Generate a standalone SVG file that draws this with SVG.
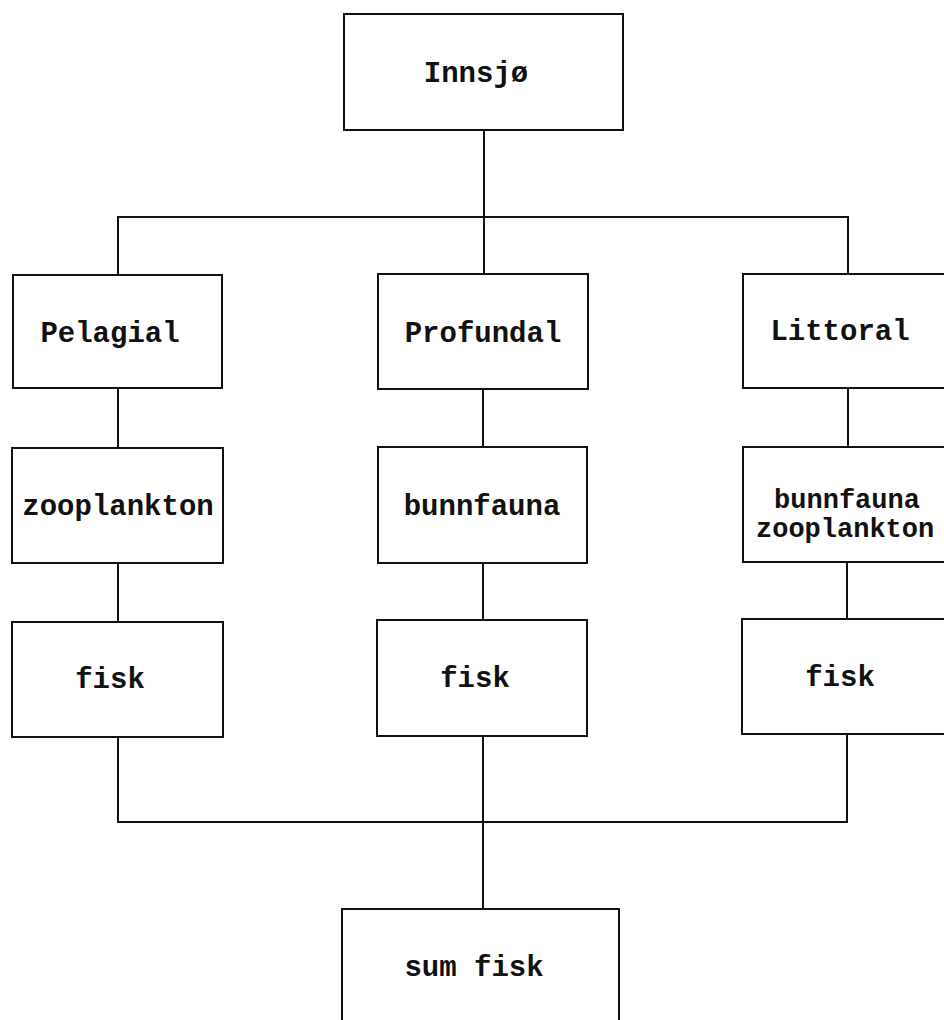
<svg xmlns="http://www.w3.org/2000/svg" width="944" height="1020" viewBox="0 0 944 1020">
<style>
.box{fill:#fff;stroke:#111;stroke-width:2}
.lbl{font-family:"Liberation Mono","Courier New",monospace;font-weight:bold;font-size:29px;fill:#111;text-anchor:middle}
.sm{font-size:27px}
.conn{fill:none;stroke:#111;stroke-width:2}
</style>
<rect width="944" height="1020" fill="#fff"/>
<g id="connectors" class="conn">
<path d="M484,130 V217"/>
<path d="M118,275 V217 H848 V274"/>
<path d="M484,217 V274"/>
<path d="M118,388 V448"/>
<path d="M118,563 V622"/>
<path d="M483,389 V447"/>
<path d="M483,563 V620"/>
<path d="M848,388 V447"/>
<path d="M847,562 V619"/>
<path d="M118,737 V822 H847 V734"/>
<path d="M483,736 V822"/>
<path d="M483,822 V909"/>
</g>
<g id="innsjo"><rect class="box" x="344" y="14" width="279" height="116"/><text class="lbl" x="476" y="82">Innsjø</text></g>
<g id="pelagial"><rect class="box" x="13" y="275" width="209" height="113"/><text class="lbl" x="110" y="342">Pelagial</text></g>
<g id="profundal"><rect class="box" x="378" y="274" width="210" height="115"/><text class="lbl" x="483" y="342">Profundal</text></g>
<g id="littoral"><rect class="box" x="743" y="274" width="220" height="114"/><text class="lbl" x="840" y="340">Littoral</text></g>
<g id="zooplankton"><rect class="box" x="12" y="448" width="211" height="115"/><text class="lbl" x="118" y="515">zooplankton</text></g>
<g id="bunnfauna"><rect class="box" x="378" y="447" width="209" height="116"/><text class="lbl" x="482" y="515">bunnfauna</text></g>
<g id="bunnfauna-zooplankton"><rect class="box" x="743" y="447" width="220" height="115"/><text class="lbl sm" x="847" y="508">bunnfauna</text><text class="lbl sm" x="756" y="537" style="text-anchor:start">zooplankton</text></g>
<g id="fisk-pelagial"><rect class="box" x="12" y="622" width="211" height="115"/><text class="lbl" x="110" y="688">fisk</text></g>
<g id="fisk-profundal"><rect class="box" x="377" y="620" width="210" height="116"/><text class="lbl" x="475" y="687">fisk</text></g>
<g id="fisk-littoral"><rect class="box" x="742" y="619" width="221" height="115"/><text class="lbl" x="840" y="686">fisk</text></g>
<g id="sum-fisk"><rect class="box" x="342" y="909" width="277" height="130"/><text class="lbl" x="474" y="976">sum fisk</text></g>
</svg>
